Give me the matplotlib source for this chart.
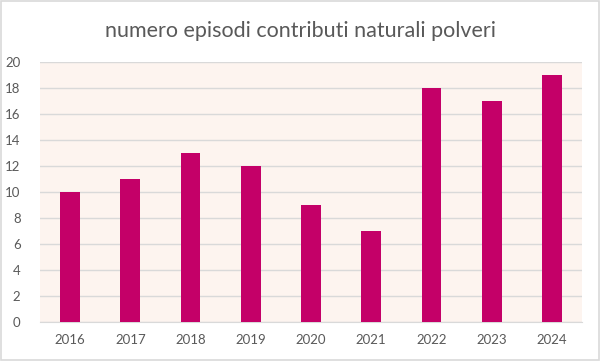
import matplotlib
matplotlib.use("Agg")
import matplotlib.pyplot as plt
from matplotlib.patches import Rectangle

anni = ['2016', '2017', '2018', '2019', '2020', '2021', '2022', '2023', '2024']
episodi = [10, 11, 13, 12, 9, 7, 18, 17, 19]

plt.rcParams['font.family'] = ['Lato', 'DejaVu Sans']

fig = plt.figure(figsize=(6.01, 3.61), dpi=100)
fig.patch.set_facecolor('white')
fig.patches.append(Rectangle((0.002, 0.003), 0.995, 0.993, transform=fig.transFigure,
                             fill=False, edgecolor='#d9d9d9', linewidth=1.2))

ax = fig.add_axes([40 / 601, 39 / 361, 542 / 601, 260 / 361])
ax.set_facecolor('#fdf4ef')

x = range(len(anni))
ax.bar(x, episodi, width=0.33, color='#c40068', zorder=3)

ax.set_xlim(-0.5, len(anni) - 0.5)
ax.set_ylim(0, 20)
ax.set_yticks(range(0, 21, 2))
ax.set_xticks(list(x))
ax.set_xticklabels(anni)
ax.grid(axis='y', color='#d9d9d9', linewidth=1, zorder=0)
for s in ['top', 'right', 'left']:
    ax.spines[s].set_visible(False)
ax.spines['bottom'].set_color('#d9d9d9')
ax.tick_params(length=0, labelsize=9.5, colors='#595959', pad=9)
ax.tick_params(axis='y', pad=14)

fig.text(0.5, 0.915, 'numero episodi contributi naturali polveri', ha='center', va='center',
         fontsize=15.5, color='#595959')

fig.savefig('out.png', dpi=100)
